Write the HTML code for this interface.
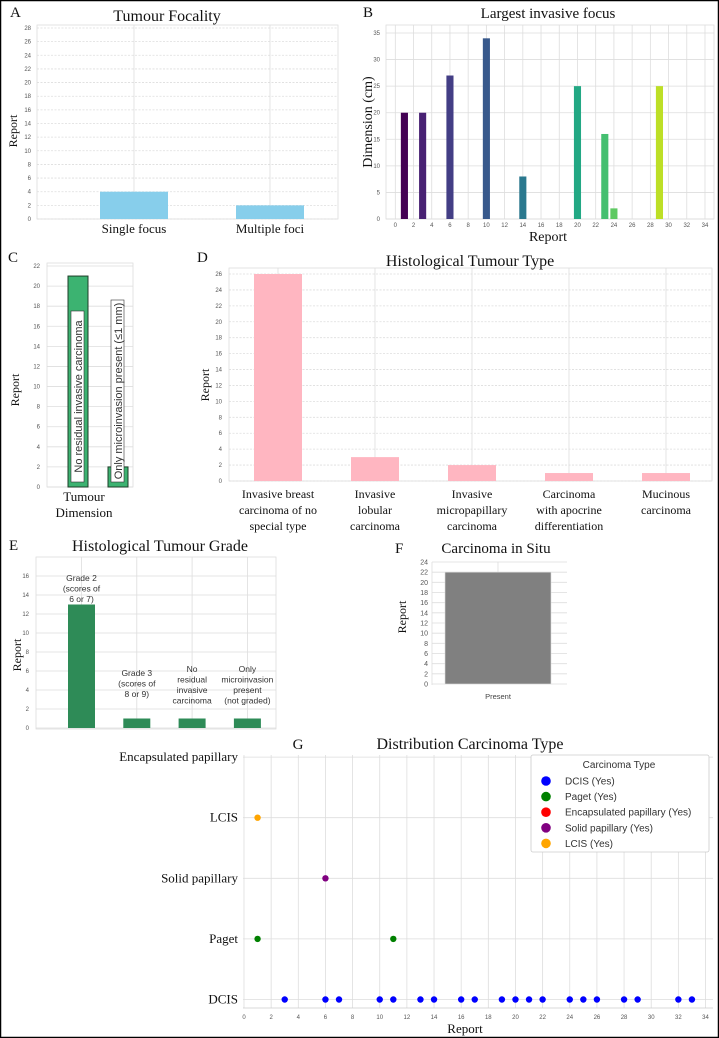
<!DOCTYPE html>
<html><head><meta charset="utf-8">
<style>
html,body{margin:0;padding:0;background:#fff;}
svg{display:block;}
.serif{font-family:"Liberation Serif",serif;fill:#111;}
.sans{font-family:"Liberation Sans",sans-serif;}
.tick{font-family:"Liberation Sans",sans-serif;font-size:6px;fill:#555;}
</style></head>
<body>
<svg id="fig" width="719" height="1038" viewBox="0 0 719 1038" xmlns="http://www.w3.org/2000/svg">
<rect x="0.5" y="0.5" width="718" height="1037" fill="#fff" stroke="#000" stroke-width="1.5"/>
</svg>
<script>
// ---- data ----
const focalityCats = ["Single focus","Multiple foci"];
const focalityVals = [4,2];
const focusReports = [1,3,6,10,14,20,23,24,29];
const focusDims = [20,20,27,34,8,25,16,2,25];
const focusColors = ["#440154","#482173","#433e85","#38598c","#2a788e","#22a884","#44bf70","#5ec962","#bddf26"];
const dimCats = ["No residual invasive carcinoma","Only microinvasion present (≤1 mm)"];
const dimVals = [21,2];
const typeCats = [["Invasive breast","carcinoma of no","special type"],["Invasive","lobular","carcinoma"],["Invasive","micropapillary","carcinoma"],["Carcinoma","with apocrine","differentiation"],["Mucinous","carcinoma"]];
const typeVals = [26,3,2,1,1];
const gradeCats = [["Grade 2","(scores of","6 or 7)"],["Grade 3","(scores of","8 or 9)"],["No","residual","invasive","carcinoma"],["Only","microinvasion","present","(not graded)"]];
const gradeVals = [13,1,1,1];
const situCats = ["Present"];
const situVals = [22];
const typeRows = ["DCIS","Paget","Solid papillary","LCIS","Encapsulated papillary"];
const dcisReports = [3,6,7,10,11,13,14,16,17,19,20,21,22,24,25,26,28,29,32,33];
const pagetReports = [1,11];
const solidReports = [6];
const lcisReports = [1];
const encapReports = [];
const legendLabels = ["DCIS (Yes)","Paget (Yes)","Encapsulated papillary (Yes)","Solid papillary (Yes)","LCIS (Yes)"];
const legendColors = ["#0000ff","#008000","#ff0000","#800080","#ffa500"];

// ---- helpers ----
const svg = document.getElementById('fig');
const NS = 'http://www.w3.org/2000/svg';
function mk(tag, attrs, parent){const e=document.createElementNS(NS,tag);for(const k in attrs)e.setAttribute(k,attrs[k]);(parent||svg).appendChild(e);return e;}
function lin(d0,d1,r0,r1){return v=>r0+(v-d0)*(r1-r0)/(d1-d0);}
function txt(x,y,s,cls,size,anchor,extra){const t=mk('text',Object.assign({x:x,y:y,class:cls,'font-size':size,'text-anchor':anchor||'middle'},extra||{}));t.textContent=s;return t;}
function hline(x0,x1,y,dash){return mk('line',{x1:x0,x2:x1,y1:y,y2:y,stroke:'#ddd','stroke-width':0.8,'stroke-dasharray':dash?'2,1.5':'none'});}
function vline(x,y0,y1){return mk('line',{x1:x,x2:x,y1:y0,y2:y1,stroke:'#ddd','stroke-width':0.8});}
function ticksY(scale,max,step,x,dash,x0,x1){for(let v=0;v<=max;v+=step){const y=scale(v);const g=hline(x0,x1,y,dash);const t=txt(x,y+2,String(v),'tick',6,'end');}}
function frame(x0,y0,x1,y1){const r=mk('rect',{x:x0,y:y0,width:x1-x0,height:y1-y0,fill:'none',stroke:'#ddd','stroke-width':0.8});}

// ---- Panel A ----
{
const y=lin(0,28,219,28);
const bx=i=>66+136*i;
frame(37,25,338,219);
ticksY(y,28,2,31,true,37,338);
focalityCats.forEach((c,i)=>{
 const cx=bx(i)+68;
 const v=vline(cx,25,219);
 const b=mk('rect',{x:cx-34,y:y(focalityVals[i]),width:68,height:y(0)-y(focalityVals[i]),fill:'#87ceeb'});
 
 
 const t=txt(cx,233,c,'serif',13);
});
let t=txt(10,17,'A','serif',15,'start');
t=txt(167,21,'Tumour Focality','serif',16);
t=txt(0,0,'Report','serif',12,'middle',{transform:'translate(17,131) rotate(-90)'});
}

// ---- Panel B ----
{
const x=lin(0,34,395.3,705), y=lin(0,35,219,33);
frame(386,25,714,219);
for(let v=0;v<=34;v+=2){const g=vline(x(v),25,219);const t=txt(x(v),227,String(v),'tick',6);}
for(let v=0;v<=35;v+=5){const g=hline(386,714,y(v),false);const t=txt(380,y(v)+2,String(v),'tick',6,'end');}
focusReports.forEach((r,i)=>{
 const w=9.11*0.78;
 const b=mk('rect',{x:x(r)-w/2,y:y(focusDims[i]),width:w,height:y(0)-y(focusDims[i]),fill:focusColors[i]});
 
 
});
let t=txt(363,17,'B','serif',15,'start');
t=txt(548,18,'Largest invasive focus','serif',15);
t=txt(0,0,'Dimension (cm)','serif',14,'middle',{transform:'translate(372,122) rotate(-90)'});
t=txt(548,241,'Report','serif',14);
}

// ---- Panel C ----
{
const y=lin(0,22,487,266);
frame(47,263,133,487);
ticksY(y,22,2,40,false,47,133);
const centers=[78,118];
dimCats.forEach((c,i)=>{
 const b=mk('rect',{x:centers[i]-10,y:y(dimVals[i]),width:20,height:y(0)-y(dimVals[i]),fill:'#3cb371',stroke:'#1d3d28','stroke-width':1});
 
 
 const top=i===0?311:300;
 const r=mk('rect',{x:centers[i]-7,y:top,width:13,height:482-top,fill:'#fff',stroke:'#333','stroke-width':0.6});
 
 
 const t=txt(0,0,c,'sans',11,'middle',{transform:'translate('+(centers[i]+4)+','+((top+482)/2)+') rotate(-90)',fill:'#333'});
 
});
let t=txt(8,262,'C','serif',15,'start');
t=txt(0,0,'Report','serif',12,'middle',{transform:'translate(19,390) rotate(-90)'});
t=txt(84,501,'Tumour','serif',13);
t=txt(84,517,'Dimension','serif',13);
}

// ---- Panel D ----
{
const y=lin(0,26,481,274);
frame(229,268,712,481);
ticksY(y,26,2,222,true,229,712);
typeCats.forEach((c,i)=>{
 const cx=278+97*i;
 const v=vline(cx,268,481);
 const b=mk('rect',{x:cx-24,y:y(typeVals[i]),width:48,height:y(0)-y(typeVals[i]),fill:'#ffb6c1'});
 
 
 c.forEach((line,j)=>{const t=txt(cx,498+j*16,line,'serif',12);});
});
let t=txt(197,262,'D','serif',15,'start');
t=txt(470,266,'Histological Tumour Type','serif',16);
t=txt(0,0,'Report','serif',12,'middle',{transform:'translate(209,385) rotate(-90)'});
}

// ---- Panel E ----
{
const y=lin(0,16,728,576);
frame(36,557,276,729);
for(let v=0;v<=16;v+=2){const g=hline(36,276,y(v),false);const t=txt(29,y(v)+2,String(v),'tick',6,'end');}
const labelStart=[581,676,672,672];
gradeCats.forEach((c,i)=>{
 const cx=81.5+55.3*i;
 const v=vline(cx,557,728);
 const b=mk('rect',{x:cx-13.5,y:y(gradeVals[i]),width:27,height:y(0)-y(gradeVals[i]),fill:'#2e8b57'});
 
 
 c.forEach((line,j)=>{const t=txt(cx,labelStart[i]+j*10.5,line,'sans',8.5,'middle',{fill:'#333'});});
});
let t=txt(9,550,'E','serif',15,'start');
t=txt(160,551,'Histological Tumour Grade','serif',16);
t=txt(0,0,'Report','serif',12,'middle',{transform:'translate(21,655) rotate(-90)'});
}

// ---- Panel F ----
{
const y=lin(0,24,684,562);
for(let v=0;v<=24;v+=2){const g=hline(432,567,y(v),false);const t=txt(428,y(v)+2.5,String(v),'sans',7,'end',{fill:'#555'});}
const l=vline(432,562,685);
situCats.forEach((c,i)=>{
 const cx=498;
 const v=vline(cx,562,684);
 const b=mk('rect',{x:445,y:y(situVals[i]),width:106,height:y(0)-y(situVals[i]),fill:'#808080',stroke:'#ddd','stroke-width':0.6});
 
 
 const t=txt(cx,699,c,'sans',7.5,'middle',{fill:'#444'});
});
let t=txt(395,553,'F','serif',15,'start');
t=txt(496,553,'Carcinoma in Situ','serif',15);
t=txt(0,0,'Report','serif',12,'middle',{transform:'translate(406,617) rotate(-90)'});
}

// ---- Panel G ----
{
const x=lin(0,34,244,705.5);
const y=i=>999.5-60.6*i;
for(let v=0;v<=34;v+=2){const g=vline(x(v),755,1008);const t=txt(x(v),1019,String(v),'tick',6);}
const ax=mk('line',{x1:243,x2:713,y1:1008,y2:1008,stroke:'#ccc','stroke-width':0.8});
typeRows.forEach((r,i)=>{
 const g=hline(243,713,y(i),false);
 const t=txt(238,y(i)+4,r,'serif',13,'end');
});
const series=[[dcisReports,0,'#0000ff','dcis'],[pagetReports,1,'#008000','paget'],[solidReports,2,'#800080','solid-papillary'],[lcisReports,3,'#ffa500','lcis'],[encapReports,4,'#ff0000','encapsulated-papillary']];
series.forEach(s=>{s[0].forEach(r=>{
 const c=mk('circle',{cx:x(r),cy:y(s[1]),r:3.2,fill:s[2]});
 
 
});});
const lg=mk('rect',{x:531,y:755,width:178,height:97,fill:'#fff',stroke:'#ccc','stroke-width':0.8,rx:2});

let t=txt(619,768,'Carcinoma Type','sans',10,'middle',{fill:'#333'});
legendLabels.forEach((l,i)=>{
 const yy=781+15.6*i;
 const c=mk('circle',{cx:546,cy:yy,r:4.8,fill:legendColors[i]});
 
 const tt=txt(565,yy+3.5,l,'sans',10,'start',{fill:'#333'});
 
});
t=txt(298,749,'G','serif',15);
t=txt(470,749,'Distribution Carcinoma Type','serif',16);
t=txt(465,1033,'Report','serif',13);
}
</script>
</body></html>
